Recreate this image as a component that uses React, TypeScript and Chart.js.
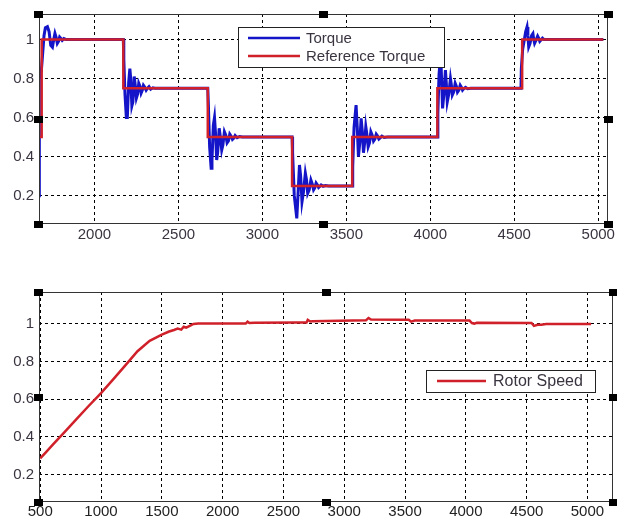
import React, { useEffect, useRef } from "react";
import { Chart, registerables } from "chart.js";

Chart.register(...registerables);

// ---------- tick labels ----------
const torqueXTicks = [2000, 2500, 3000, 3500, 4000, 4500, 5000];
const speedXTicks = [500, 1000, 1500, 2000, 2500, 3000, 3500, 4000, 4500, 5000];
const yTicks = [0.2, 0.4, 0.6, 0.8, 1];

// ---------- reference torque (step) ----------
const refTorqueX = [1670, 1686, 1686, 2172, 2172, 2675, 2675, 3177, 3177, 3535, 3535, 4042, 4042, 4547, 4547, 5030];
const refTorqueY = [0.5, 0.5, 1, 1, 0.75, 0.75, 0.5, 0.5, 0.25, 0.25, 0.5, 0.5, 0.75, 0.75, 1, 1];

// ---------- torque ----------
const torqueX = [
  1670, 1672, 1684, 1692, 1700, 1708, 1720, 1730, 1740, 1750, 1758, 1765, 1772, 1779, 1786, 1793, 1800, 1808, 1818, 1830, 2172,
  2175, 2182, 2190, 2196, 2204, 2211, 2216, 2223, 2229, 2237, 2244, 2250, 2257, 2264, 2271, 2278, 2285, 2292, 2300, 2308, 2316, 2325, 2335, 2348, 2360, 2675,
  2678, 2686, 2695, 2700, 2708, 2715, 2721, 2728, 2734, 2743, 2750, 2758, 2765, 2774, 2782, 2790, 2798, 2806, 2814, 2822, 2830, 2838, 2850, 2865, 2880, 3177,
  3180, 3190, 3205, 3212, 3221, 3228, 3236, 3245, 3256, 3263, 3270, 3279, 3289, 3297, 3305, 3312, 3320, 3328, 3335, 3343, 3350, 3362, 3375, 3395, 3535,
  3538, 3546, 3558, 3565, 3572, 3580, 3588, 3595, 3602, 3609, 3616, 3623, 3630, 3638, 3646, 3654, 3662, 3670, 3678, 3686, 3694, 3703, 3712, 3725, 3745, 4042,
  4045, 4052, 4062, 4067, 4073, 4081, 4090, 4095, 4101, 4110, 4120, 4125, 4131, 4139, 4148, 4155, 4162, 4170, 4178, 4185, 4192, 4200, 4210, 4222, 4240, 4540,
  4542, 4550, 4560, 4568, 4576, 4581, 4586, 4594, 4603, 4611, 4616, 4621, 4629, 4639, 4646, 4652, 4660, 4668, 4676, 4690, 5030,
];
const torqueY = [
  0.2, 0.8, 0.84, 0.93, 1.02, 1.06, 1.065, 1.04, 0.97, 0.96, 1.0, 1.03, 1.01, 0.98, 0.99, 1.012, 1.005, 0.995, 1.004, 1.0, 1.0,
  0.9, 0.72, 0.6, 0.6, 0.78, 0.85, 0.8, 0.66, 0.68, 0.81, 0.76, 0.7, 0.72, 0.775, 0.76, 0.725, 0.74, 0.765, 0.755, 0.74, 0.75, 0.758, 0.745, 0.752, 0.75, 0.75,
  0.68, 0.45, 0.34, 0.38, 0.56, 0.6, 0.52, 0.383, 0.42, 0.545, 0.5, 0.434, 0.46, 0.527, 0.51, 0.47, 0.48, 0.515, 0.505, 0.488, 0.495, 0.508, 0.497, 0.503, 0.5, 0.5,
  0.42, 0.2, 0.084, 0.2, 0.357, 0.3, 0.169, 0.22, 0.315, 0.28, 0.212, 0.23, 0.28, 0.26, 0.23, 0.24, 0.265, 0.255, 0.242, 0.248, 0.255, 0.248, 0.252, 0.25, 0.25,
  0.35, 0.55, 0.664, 0.55, 0.4, 0.47, 0.596, 0.53, 0.42, 0.47, 0.553, 0.51, 0.45, 0.47, 0.527, 0.51, 0.48, 0.49, 0.515, 0.505, 0.49, 0.497, 0.505, 0.498, 0.5, 0.5,
  0.62, 0.82, 0.93, 0.8, 0.647, 0.72, 0.843, 0.78, 0.68, 0.72, 0.8, 0.77, 0.715, 0.73, 0.775, 0.76, 0.73, 0.74, 0.765, 0.755, 0.74, 0.748, 0.755, 0.748, 0.75, 0.75,
  0.85, 0.95, 1.0, 1.04, 1.064, 1.02, 0.962, 0.98, 1.02, 1.03, 1.0, 0.98, 0.995, 1.017, 1.005, 0.99, 0.998, 1.006, 1.0, 1.0, 1.0,
];

// ---------- rotor speed ----------
const speedX = [
  500, 550, 600, 700, 800, 900, 1000, 1100, 1200, 1300, 1400, 1500, 1560, 1600, 1630, 1660, 1680, 1700, 1730, 1760, 1800,
  2000, 2190, 2205, 2220, 2260, 2600, 2690, 2700, 2720, 2740, 3180, 3200, 3220, 3500, 3530, 3550, 3580, 4030, 4050, 4070,
  4090, 4540, 4560, 4590, 4620, 4660, 5030,
];
const speedY = [
  0.285, 0.32, 0.355, 0.425, 0.495, 0.565, 0.632, 0.705, 0.78, 0.855, 0.91, 0.943, 0.96, 0.968, 0.975, 0.97, 0.985, 0.98, 0.99, 1.0, 1.002,
  1.002, 1.002, 1.012, 1.005, 1.007, 1.008, 1.008, 1.022, 1.013, 1.015, 1.02, 1.032, 1.024, 1.023, 1.022, 1.012, 1.018, 1.018, 1.005, 1.002,
  1.006, 1.005, 0.99, 0.996, 0.996, 1.0, 1.0,
];

const FONT = "'Liberation Sans', Arial, sans-serif";
const BLUE = "#1414c8";
const RED = "#d0202a";

type LegendItem = { label: string; color: string };
type LegendSpec = {
  box: [number, number, number, number];
  items: LegendItem[];
  lineX: [number, number];
  textX: number;
  rowY: number[];
  fontSize: number;
};

function zip(xs: number[], ys: number[]) {
  return xs.map((x, i) => ({ x, y: ys[i] }));
}

function framePlugin(legend: LegendSpec) {
  return {
    id: "frameAndLegend",
    afterDatasetsDraw(chart: any) {
      const { ctx, chartArea: a } = chart;
      ctx.save();
      ctx.strokeStyle = "#333";
      ctx.lineWidth = 1;
      ctx.setLineDash([]);
      ctx.strokeRect(Math.round(a.left) + 0.5, Math.round(a.top) + 0.5, Math.round(a.right - a.left) - 1, Math.round(a.bottom - a.top) - 1);
      ctx.fillStyle = "#000";
      const xs = [a.left - 1, (a.left + a.right) / 2, a.right];
      const ys = [a.top, (a.top + a.bottom) / 2, a.bottom];
      for (let i = 0; i < 3; i++) {
        for (let j = 0; j < 3; j++) {
          if (i === 1 && j === 1) continue;
          const w = 9, h = 7;
          ctx.fillRect(Math.round(xs[i] - w / 2), Math.round(ys[j] - h / 2), w, h);
        }
      }
      const [bx, by, bw, bh] = legend.box;
      ctx.fillStyle = "#fff";
      ctx.fillRect(bx, by, bw, bh);
      ctx.strokeStyle = "#222";
      ctx.lineWidth = 1;
      ctx.strokeRect(bx + 0.5, by + 0.5, bw - 1, bh - 1);
      ctx.font = `${legend.fontSize}px ${FONT}`;
      ctx.textBaseline = "middle";
      ctx.textAlign = "left";
      legend.items.forEach((it, k) => {
        const yy = legend.rowY[k];
        ctx.strokeStyle = it.color;
        ctx.lineWidth = 2.5;
        ctx.beginPath();
        ctx.moveTo(legend.lineX[0], yy);
        ctx.lineTo(legend.lineX[1], yy);
        ctx.stroke();
        ctx.fillStyle = "#3a3440";
        ctx.fillText(it.label, legend.textX, yy + 1);
      });
      ctx.restore();
    },
  };
}

function makeOptions(p: {
  xMin: number; xMax: number; yMin: number; yMax: number;
  xTicks: number[]; padTop: number; xAxisH: number; xPad: number; xColor: string;
}) {
  return {
    responsive: false,
    animation: false as const,
    events: [],
    layout: { padding: { top: p.padTop, right: 4, left: 0, bottom: 0 } },
    plugins: { legend: { display: false }, tooltip: { enabled: false } },
    scales: {
      x: {
        type: "linear" as const,
        min: p.xMin,
        max: p.xMax,
        afterBuildTicks: (scale: any) => {
          scale.ticks = p.xTicks.map((v) => ({ value: v }));
        },
        afterFit: (scale: any) => {
          scale.height = p.xAxisH;
        },
        border: { display: false, dash: [3, 3] },
        grid: { color: "#000", lineWidth: 1, drawTicks: false },
        ticks: {
          autoSkip: false,
          maxRotation: 0,
          padding: p.xPad,
          color: p.xColor,
          font: { family: FONT, size: 15 },
          callback: (v: any) => String(v),
        },
      },
      y: {
        type: "linear" as const,
        min: p.yMin,
        max: p.yMax,
        afterBuildTicks: (scale: any) => {
          scale.ticks = yTicks.map((v) => ({ value: v }));
        },
        afterFit: (scale: any) => {
          scale.width = 39;
        },
        border: { display: false, dash: [3, 3] },
        grid: { color: "#000", lineWidth: 1, drawTicks: false },
        ticks: {
          padding: 5,
          color: "#3a3440",
          font: { family: FONT, size: 15 },
          callback: (v: any) => String(v),
        },
      },
    },
  };
}

export default function App() {
  const topRef = useRef<HTMLCanvasElement>(null);
  const botRef = useRef<HTMLCanvasElement>(null);

  useEffect(() => {
    const top = new Chart(topRef.current as HTMLCanvasElement, {
      type: "line",
      data: {
        datasets: [
          {
            label: "Torque",
            data: zip(torqueX, torqueY),
            borderColor: BLUE,
            borderWidth: 3,
            pointRadius: 0,
            tension: 0,
            order: 2,
          },
          {
            label: "Reference Torque",
            data: zip(refTorqueX, refTorqueY),
            borderColor: RED,
            borderWidth: 2.5,
            pointRadius: 0,
            tension: 0,
            order: 1,
          },
        ],
      },
      options: makeOptions({ xMin: 1670, xMax: 5060, yMin: 0.055, yMax: 1.13, xTicks: torqueXTicks, padTop: 14, xAxisH: 26, xPad: 2, xColor: "#3a3440" }) as any,
      plugins: [
        framePlugin({
          box: [238, 27, 207, 41],
          items: [
            { label: "Torque", color: BLUE },
            { label: "Reference Torque", color: RED },
          ],
          lineX: [248, 300],
          textX: 306,
          rowY: [38, 56],
          fontSize: 15,
        }),
      ],
    });

    const bot = new Chart(botRef.current as HTMLCanvasElement, {
      type: "line",
      data: {
        datasets: [
          {
            label: "Rotor Speed",
            data: zip(speedX, speedY),
            borderColor: RED,
            borderWidth: 2.5,
            pointRadius: 0,
            tension: 0,
          },
        ],
      },
      options: makeOptions({ xMin: 490, xMax: 5210, yMin: 0.053, yMax: 1.17, xTicks: speedXTicks, padTop: 22, xAxisH: 18, xPad: 1, xColor: "#222" }) as any,
      plugins: [
        framePlugin({
          box: [426, 100, 170, 23],
          items: [{ label: "Rotor Speed", color: RED }],
          lineX: [437, 486],
          textX: 493,
          rowY: [111],
          fontSize: 16,
        }),
      ],
    });

    return () => {
      top.destroy();
      bot.destroy();
    };
  }, []);

  return (
    <div style={{ position: "absolute", left: 0, top: 0, width: 617, height: 520, background: "#fff" }}>
      <canvas ref={topRef} width={617} height={250} style={{ position: "absolute", left: 0, top: 0 }} />
      <canvas ref={botRef} width={617} height={250} style={{ position: "absolute", left: 0, top: 270 }} />
    </div>
  );
}
